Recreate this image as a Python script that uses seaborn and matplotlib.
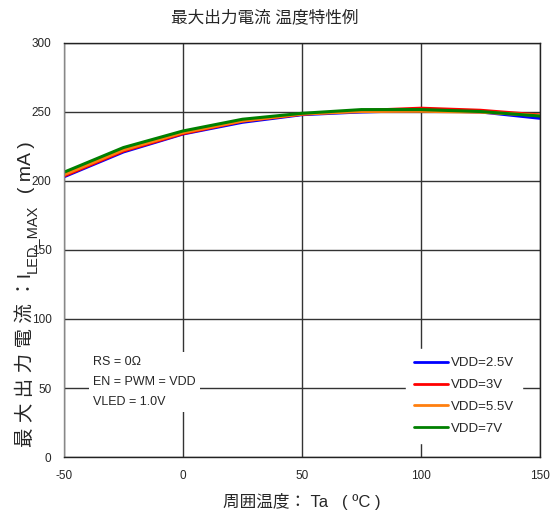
import pandas as pd
import matplotlib
matplotlib.use("Agg")
import matplotlib.pyplot as plt
import seaborn as sns

# temperatures (deg C) and read-off currents (mA)
temps = [-50, -25, 0, 25, 50, 75, 100, 125, 150]
vdd_25 = [203.0, 221.0, 234.0, 242.5, 248.0, 250.0, 251.0, 250.0, 245.4]
vdd_3 = [203.6, 221.7, 234.3, 243.3, 248.3, 251.0, 252.7, 251.2, 247.8]
vdd_55 = [204.5, 222.5, 235.0, 243.5, 248.5, 250.3, 250.5, 249.8, 247.5]
vdd_7 = [206.3, 224.2, 236.2, 244.7, 249.0, 251.7, 251.7, 250.3, 247.0]

labels = ["VDD=2.5V", "VDD=3V", "VDD=5.5V", "VDD=7V"]
colors = ["#0000ff", "#ff0000", "#ff7f0e", "#008000"]

df = pd.DataFrame({"Ta": temps * 4,
                   "I": vdd_25 + vdd_3 + vdd_55 + vdd_7,
                   "VDD": [l for l in labels for _ in temps]})

sns.set_style("white")
plt.rcParams['font.family'] = ['Liberation Sans', 'Noto Sans CJK JP', 'DejaVu Sans']
plt.rcParams['axes.unicode_minus'] = False

fig = plt.figure(figsize=(5.56, 5.17), dpi=100)
ax = fig.add_axes([0.115, 0.116, 0.856, 0.801])

sns.lineplot(data=df, x="Ta", y="I", hue="VDD", palette=colors,
             linewidth=2.2, ax=ax, legend=True)

ax.set_xlim(-50, 150)
ax.set_ylim(0, 300)
ax.set_xticks([-50, 0, 50, 100, 150])
ax.set_yticks(range(0, 301, 50))
ax.grid(True, color="#333333", linewidth=1.0)
ax.set_axisbelow(True)
ax.tick_params(length=0, labelsize=8.5, pad=9)
for s in ax.spines.values():
    s.set_color("#222222")
    s.set_linewidth(1.0)
ax.spines['left'].set_color("#888888")

fig.text(0.477, 0.967, "最大出力電流 温度特性例", fontsize=12,
         ha="center", va="center")
ax.set_xlabel("周囲温度： Ta   ( ºC )", fontsize=12, labelpad=8)
ax.set_ylabel("")

# y label built from pieces so the subscript keeps the CJK fallback
t1 = fig.text(0.0558, 0.1354, "最 大 出 力 電 流 ：I", fontsize=14, rotation=90,
              rotation_mode="anchor", ha="left", va="baseline")
t2 = ax.annotate("LED_MAX", xy=(0.0635, 1), xycoords=("figure fraction", t1),
                 fontsize=10.5, rotation=90, rotation_mode="anchor",
                 ha="left", va="baseline", annotation_clip=False)
t3 = ax.annotate("  ( mA )", xy=(0.0558, 1), xycoords=("figure fraction", t2),
                 fontsize=14, rotation=90, rotation_mode="anchor",
                 ha="left", va="baseline", annotation_clip=False)

leg = ax.legend(loc="lower right", bbox_to_anchor=(0.977, 0.019),
                fontsize=9.5, frameon=True, handlelength=2.6,
                labelspacing=0.72, handletextpad=0.25, borderpad=0.6,
                fancybox=False)
leg.get_frame().set_edgecolor("white")
leg.get_frame().set_facecolor("white")
leg.get_frame().set_alpha(1)
for h in leg.get_lines():
    h.set_linewidth(2)

ax.text(0.062, 0.181, "RS = 0Ω\nEN = PWM = VDD\nVLED = 1.0V",
        transform=ax.transAxes, fontsize=9, va="center", ha="left",
        linespacing=1.85,
        bbox=dict(facecolor="white", edgecolor="none", pad=3))

fig.savefig("out.png", dpi=100)
